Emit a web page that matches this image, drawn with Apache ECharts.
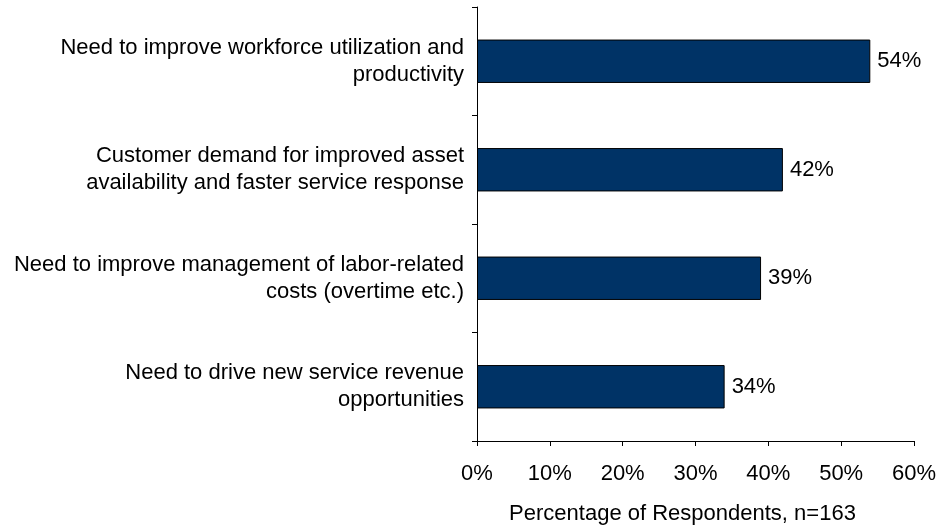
<!DOCTYPE html>
<html><head><meta charset="utf-8">
<script src="https://cdn.jsdelivr.net/npm/echarts@6/dist/echarts.min.js"></script>
<style>html,body{margin:0;padding:0;background:#fff}#c{width:937px;height:529px}</style>
</head><body><div id="c"></div>
<script>
const categories = [
  "Need to improve workforce utilization and\nproductivity",
  "Customer demand for improved asset\navailability and faster service response",
  "Need to improve management of labor-related\ncosts (overtime etc.)",
  "Need to drive new service revenue\nopportunities"
];
const values = [54, 42, 39, 34];
const xTicks = [0, 10, 20, 30, 40, 50, 60];
const axisName = "Percentage of Respondents, n=163";

const font = "'Liberation Sans', Arial, sans-serif";
const chart = echarts.init(document.getElementById('c'), null, {renderer: 'canvas'});
chart.setOption({
  animation: false,
  backgroundColor: '#fff',
  grid: {left: 477, right: 23, top: 7, bottom: 88, containLabel: false, outerBoundsMode: 'none'},
  xAxis: {
    type: 'value', min: xTicks[0], max: xTicks[xTicks.length - 1], interval: 10,
    name: axisName, nameLocation: 'middle', nameGap: 62,
    nameTextStyle: {fontFamily: font, fontSize: 22, color: '#000', padding: [0, 26, 0, 0]},
    axisLine: {show: true, lineStyle: {color: '#000', width: 1}},
    axisTick: {show: true, length: 5, lineStyle: {color: '#000'}},
    axisLabel: {formatter: v => v + '%', fontFamily: font, fontSize: 22, color: '#000', margin: 22},
    splitLine: {show: false}
  },
  yAxis: {
    type: 'category', data: categories, inverse: true,
    axisLine: {show: true, lineStyle: {color: '#000', width: 1}},
    axisTick: {show: true, length: 5, lineStyle: {color: '#000'}},
    axisLabel: {fontFamily: font, fontSize: 22, color: '#000', margin: 13, lineHeight: 27, align: 'right'}
  },
  series: [{
    type: 'bar', data: values, barCategoryGap: '60%',
    itemStyle: {color: '#003366', borderColor: '#000', borderWidth: 1},
    label: {show: true, position: 'right', formatter: p => p.value + '%', fontFamily: font, fontSize: 22, color: '#000', distance: 7}
  }]
});
</script></body></html>
